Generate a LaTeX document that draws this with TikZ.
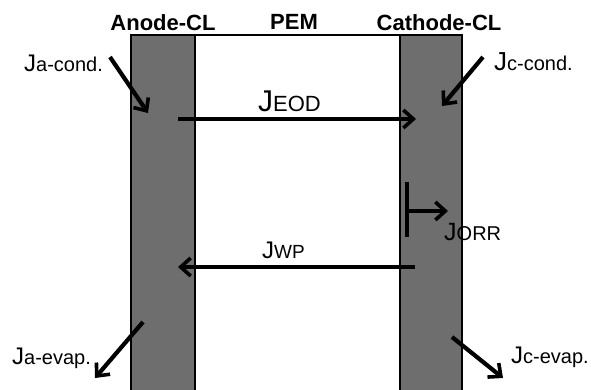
\documentclass[tikz,border=0pt]{standalone}
\usepackage{fontspec}
\setmainfont{Liberation Sans}
\usetikzlibrary{arrows.meta}
\definecolor{clgray}{HTML}{6E6E6E}
\tikzset{
  layer/.style={draw=black,line width=1.8pt,fill=clgray},
  flux/.style={line width=4.2pt,-{Straight Barb[length=10pt,width=18pt,line width=3.6pt]}},
  head/.style={font=\bfseries\fontsize{22}{22}\selectfont,anchor=base},
  lbl/.style={anchor=base west,inner sep=0pt}
}
\newcommand{\Jf}[3]{{\fontsize{#1}{#1}\selectfont J}{\fontsize{#2}{#2}\selectfont #3}}
\begin{document}
\begin{tikzpicture}[x=1pt,y=-1pt]
\useasboundingbox (0,0) rectangle (591,389);
% layers
\draw[layer] (131,35) rectangle (195,392);
\draw[layer] (400,35) rectangle (462,392);
\draw[line width=1.8pt] (195,35) -- (400,35);
% headings
\node[head] (anode) at (163,30) {Anode-CL};
\node[head] (pem) at (294,29) {PEM};
\node[head] (cath) at (439,30) {Cathode-CL};
% coordinates
\coordinate (acs) at (110,57);  \coordinate (ace) at (148,113);
\coordinate (ccs) at (483,57);  \coordinate (cce) at (442,106);
\coordinate (eods) at (178,119); \coordinate (eode) at (416,119);
\coordinate (orrt) at (407,182); \coordinate (orrb) at (407,237);
\coordinate (orrs) at (407,211); \coordinate (orre) at (448,211);
\coordinate (wps) at (415,267); \coordinate (wpe) at (178,267);
\coordinate (aes) at (143,322); \coordinate (aee) at (95,378);
\coordinate (ces) at (452,337); \coordinate (cee) at (503,378);
% fluxes
\draw[flux] (acs) -- (ace);
\draw[flux] (ccs) -- (cce);
\draw[flux] (eods) -- (eode);
\draw[line width=4.2pt] (orrt) -- (orrb);
\draw[flux] (orrs) -- (orre);
\draw[flux] (wps) -- (wpe);
\draw[flux] (aes) -- (aee);
\draw[flux] (ces) -- (cee);
% labels
\node[lbl] (lac) at (24,71) {\Jf{24}{20}{a-cond.}};
\node[lbl] (lcc) at (494,70) {\Jf{26}{20}{c-cond.}};
\node[lbl] (leod) at (258,111) {\Jf{30}{22}{EOD}};
\node[lbl] (lorr) at (444,240) {\Jf{25}{20}{ORR}};
\node[lbl] (lwp) at (262,258) {\Jf{24}{19}{WP}};
\node[lbl] (lae) at (12,364) {\Jf{24}{20}{a-evap.}};
\node[lbl] (lce) at (511,363) {\Jf{24}{20}{c-evap.}};
\end{tikzpicture}
\end{document}
